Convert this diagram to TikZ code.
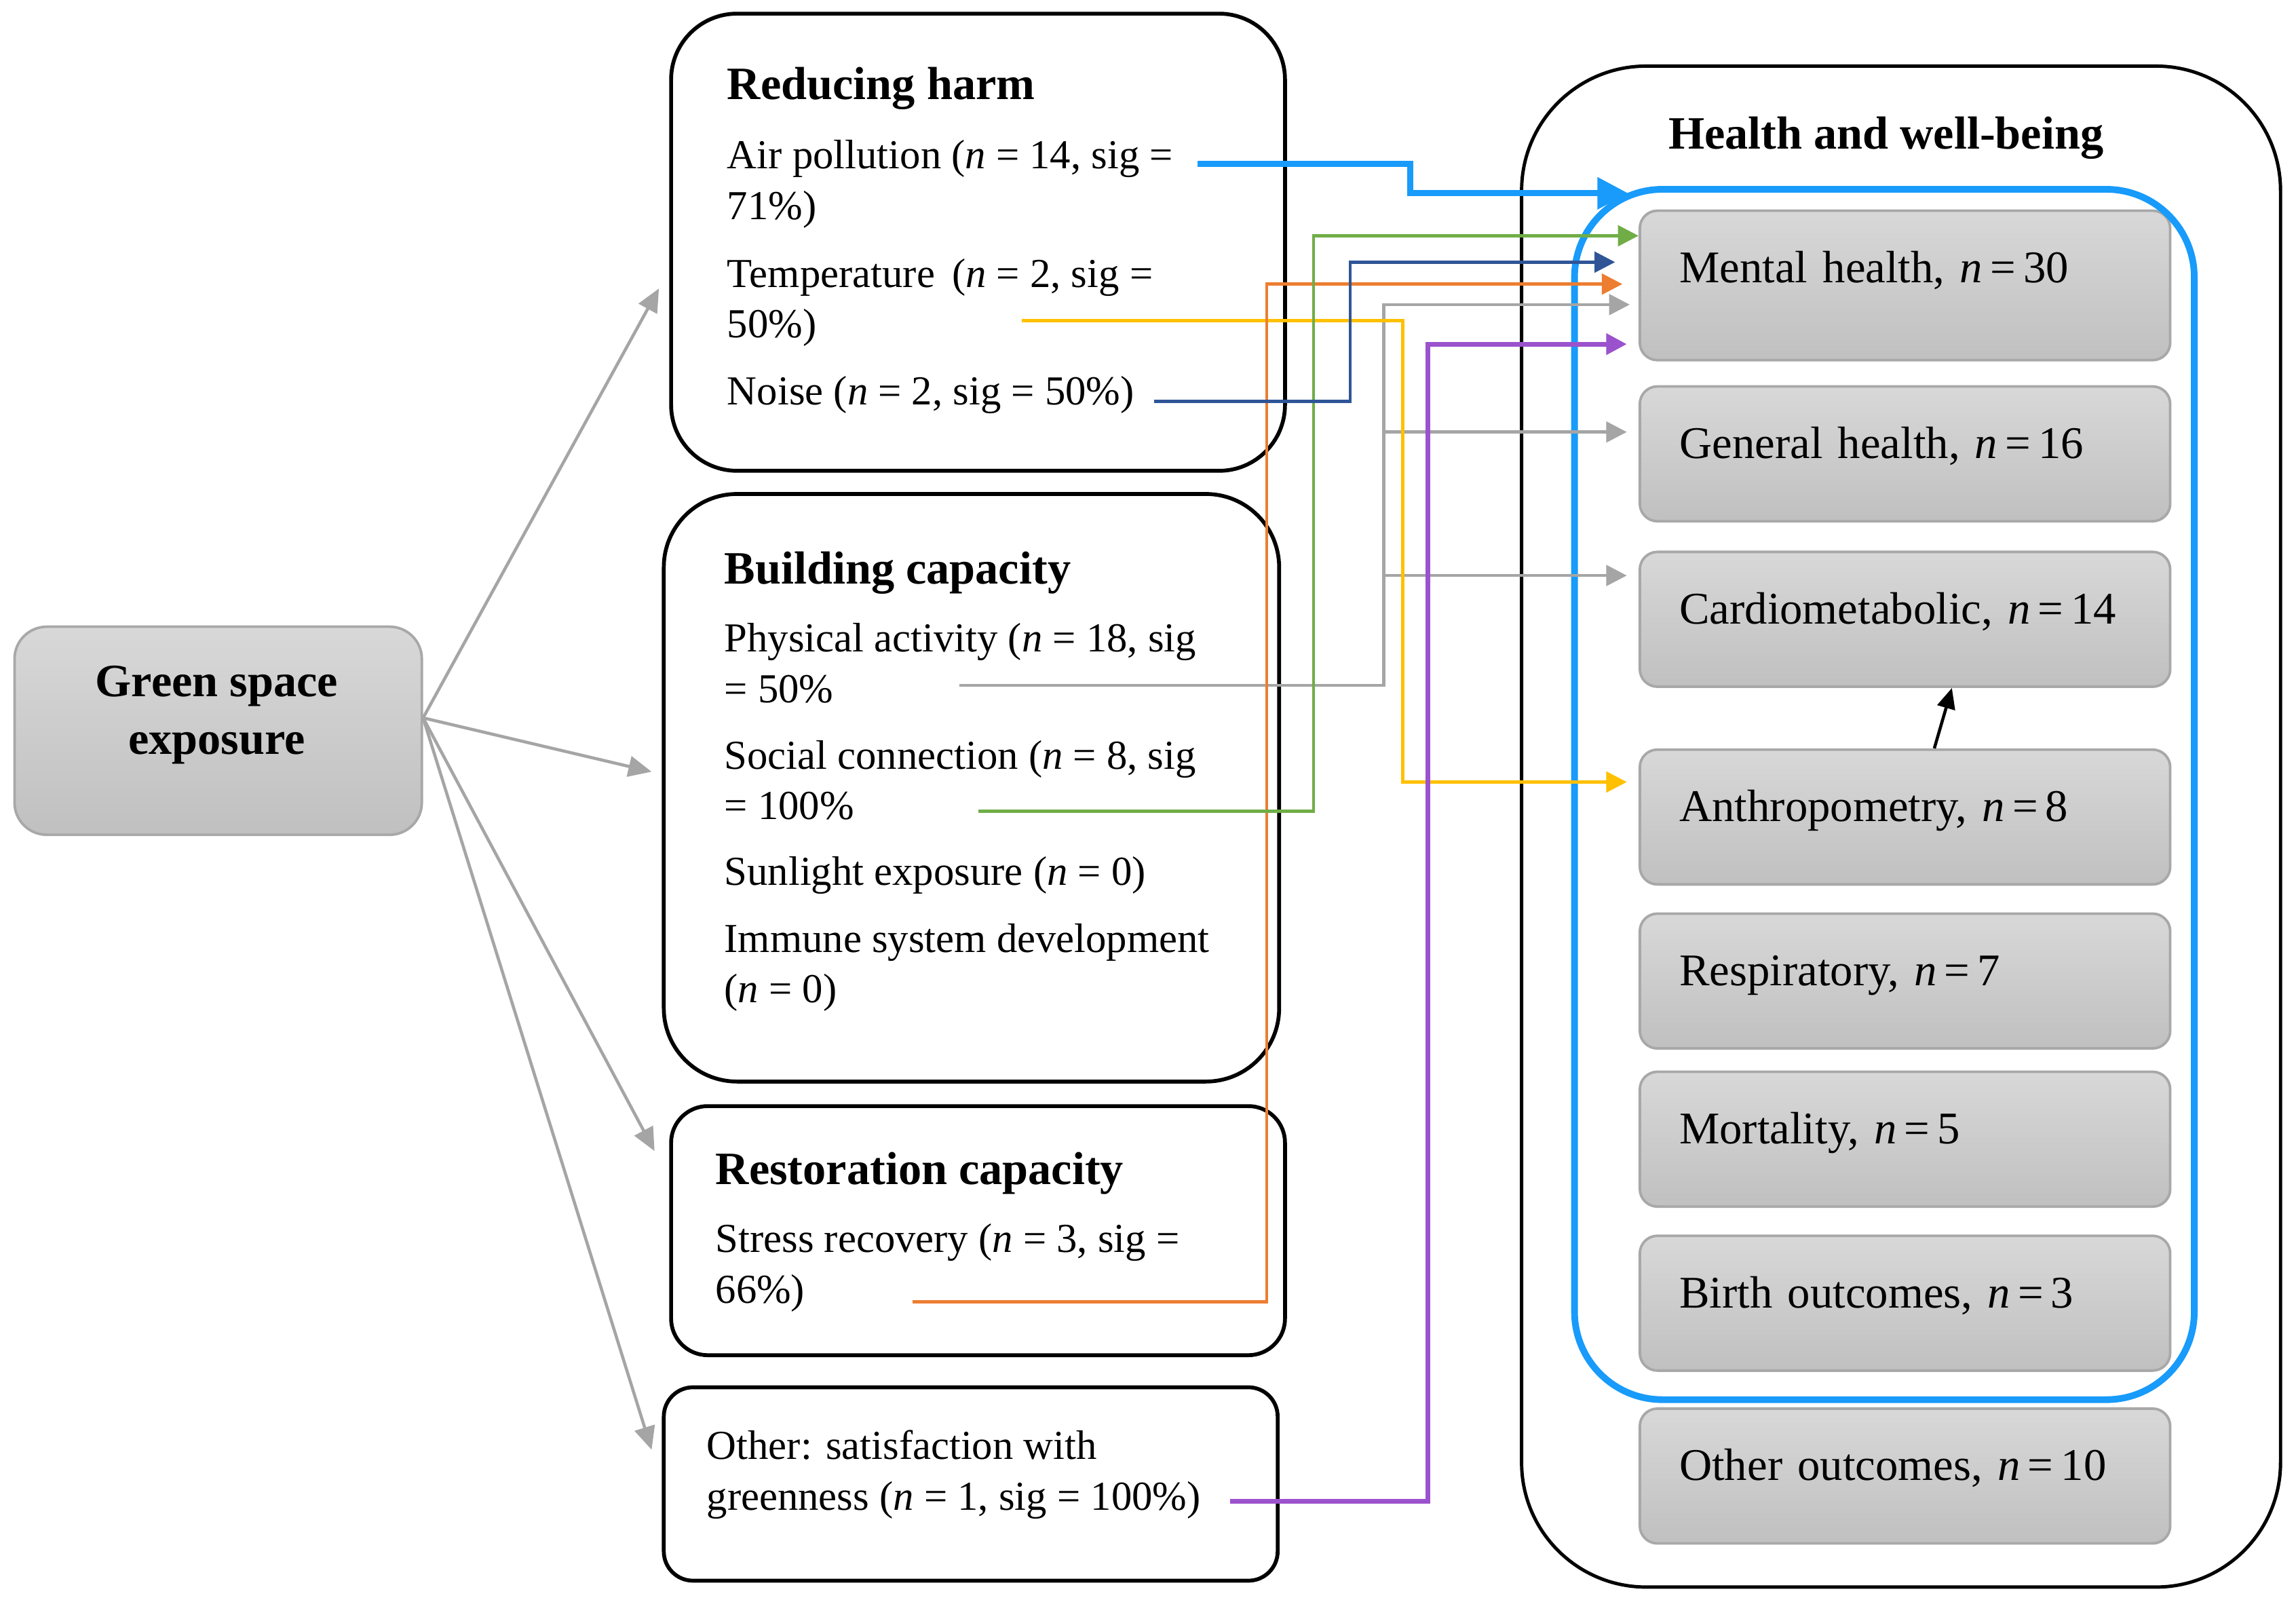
\documentclass[tikz,border=0pt]{standalone}
\usepackage{fontspec}
\setmainfont{Liberation Serif}
\usetikzlibrary{arrows.meta}
\definecolor{boxgrayT}{RGB}{216,216,216}
\definecolor{boxgrayB}{RGB}{192,192,192}
\definecolor{boxedge}{RGB}{168,168,168}
\definecolor{linkgray}{RGB}{165,165,165}
\definecolor{airblue}{RGB}{24,155,250}
\definecolor{noiseblue}{RGB}{47,85,151}
\definecolor{socgreen}{RGB}{112,173,71}
\definecolor{tempyellow}{RGB}{255,192,0}
\definecolor{stressorange}{RGB}{237,125,49}
\definecolor{otherpurple}{RGB}{155,82,205}

\begin{document}
\begin{tikzpicture}[x=0.01cm, y=-0.01cm,
  catbox/.style={draw, line width=0.75pt, anchor=north west, inner sep=0pt},
  shadebox/.style={draw=boxedge, line width=0.5pt, top color=boxgrayT, bottom color=boxgrayB},
  graybox/.style={shadebox, rounded corners=0.12cm, anchor=north west, text width=3.08cm,
    inner xsep=0.27cm, inner ysep=0pt, align=left, text height=0.49cm, text depth=0.43cm,
    font=\fontsize{8.8}{11}\selectfont},
  cattitle/.style={anchor=north west, inner sep=0pt, font=\fontsize{9}{11}\selectfont\bfseries},
  item/.style={anchor=north west, inner sep=0pt, align=left, font=\fontsize{8}{9.8}\selectfont},
  spoke/.style={draw=linkgray, line width=0.6pt, -{Triangle[length=4.5pt,width=4pt]}},
  link/.style={line width=0.6pt, -{Triangle[length=4pt,width=4pt]}}]
\useasboundingbox (0,0) rectangle (1568,1091);
% ---- mechanism boxes ----
\node[catbox, rounded corners=0.45cm, minimum width=4.19cm, minimum height=3.12cm] (harm) at (457,8) {};
\node[catbox, rounded corners=0.5cm, minimum width=4.2cm, minimum height=4.01cm] (build) at (452,336) {};
\node[catbox, rounded corners=0.25cm, minimum width=4.19cm, minimum height=1.7cm] (rest) at (457,754) {};
\node[catbox, rounded corners=0.2cm, minimum width=4.19cm, minimum height=1.32cm] (other) at (452,946) {};
\node[shadebox, rounded corners=0.22cm, minimum width=2.78cm, minimum height=1.42cm] (green) at (149,499) {};
\node[align=center, inner sep=0pt, font=\fontsize{9}{11.2}\selectfont\bfseries] (greenT) at (148,488) {Green space\\exposure};
% ---- texts ----
\node[cattitle] (harmT) at (496,45) {Reducing harm};
\node[item] (air) at (496,95) {Air pollution (\textit{n} = 14, sig =\\71\%)};
\node[item] (temp) at (496,176) {Temperature \,(\textit{n} = 2, sig =\\50\%)};
\node[item] (noise) at (496,256) {Noise (\textit{n} = 2, sig = 50\%)};
\node[cattitle] (buildT) at (494,376) {Building capacity};
\node[item] (act) at (494,425) {Physical activity (\textit{n} = 18, sig\\= 50\%};
\node[item] (soc) at (494,505) {Social connection (\textit{n} = 8, sig\\= 100\%};
\node[item] (sun) at (494,584) {Sunlight exposure (\textit{n} = 0)};
\node[item] (imm) at (494,630) {Immune system development\\(\textit{n} = 0)};
\node[cattitle] (restT) at (488,786) {Restoration capacity};
\node[item] (stress) at (488,835) {Stress recovery (\textit{n} = 3, sig =\\66\%)};
\node[item] (sat) at (482,976) {Other: satisfaction with\\greenness (\textit{n} = 1, sig = 100\%)};
% ---- outcomes ----
\node[catbox, line width=0.65pt, rounded corners=0.85cm, minimum width=5.18cm, minimum height=10.38cm] (health) at (1038,44) {};
\node[anchor=north, inner sep=0pt, font=\fontsize{9}{11}\selectfont\bfseries] (healthT) at (1288,79) {Health and well-being};
\node[graybox, text depth=0.53cm] (mental) at (1119,143) {Mental health, \textit{n}\,=\,30};
\node[graybox] (general) at (1119,263) {General health, \textit{n}\,=\,16};
\node[graybox] (cardio) at (1119,376) {Cardiometabolic, \textit{n}\,=\,14};
\node[graybox] (anthro) at (1119,511) {Anthropometry, \textit{n}\,=\,8};
\node[graybox] (resp) at (1119,623) {Respiratory, \textit{n}\,=\,7};
\node[graybox] (mort) at (1119,731) {Mortality, \textit{n}\,=\,5};
\node[graybox] (birth) at (1119,843) {Birth outcomes, \textit{n}\,=\,3};
\node[graybox] (otherout) at (1119,961) {Other outcomes, \textit{n}\,=\,10};
\node[draw=airblue, line width=1.3pt, rounded corners=0.6cm, anchor=north west, inner sep=0pt,
  minimum width=4.23cm, minimum height=8.26cm] (blue) at (1073,127) {};
% ---- spokes from exposure ----
\coordinate (harmIn) at (450,197);
\coordinate (buildIn) at (445,527);
\coordinate (restIn) at (447,786);
\coordinate (otherIn) at (445,990);
\foreach \t in {harmIn,buildIn,restIn,otherIn}
  \draw[spoke] ([yshift=2.5pt]green.east) -- (\t);
% ---- links to outcomes ----
\coordinate (airS) at (818,112);   \coordinate (airT) at (1112,132);
\coordinate (socS) at (668,554);   \coordinate (socT) at (1119,161);
\coordinate (noiseS) at (788,274); \coordinate (noiseT) at (1103,179);
\coordinate (stressS) at (623,889); \coordinate (stressT) at (1108,194);
\coordinate (actS) at (655,468);   \coordinate (actK) at (945,468);
\coordinate (actT) at (1113,208);  \coordinate (genT) at (1111,295);
\coordinate (cardT) at (1111,393);
\coordinate (tempS) at (698,219);  \coordinate (tempT) at (1111,534);
\coordinate (satS) at (840,1025);  \coordinate (satT) at (1111,235);
\draw[link, linkgray] (actS) -- (actK) |- (actT);
\draw[link, linkgray] (actK) |- (genT);
\draw[link, linkgray] (actK) |- (cardT);
\draw[link, tempyellow] (tempS) -- ++(260,0) |- (tempT);
\draw[link, stressorange] (stressS) -- ++(242,0) |- (stressT);
\draw[link, socgreen] (socS) -- ++(229,0) |- (socT);
\draw[link, noiseblue] (noiseS) -- ++(134,0) |- (noiseT);
\draw[link, otherpurple, line width=0.9pt] (satS) -- ++(135,0) |- (satT);
\draw[airblue, line width=1.2pt, -{Triangle[length=6pt,width=6pt]}] (airS) -- ++(145,0) |- (airT);
\draw[line width=0.6pt, -{Triangle[length=4pt,width=3.5pt]}] ([xshift=0.2cm]anthro.north) -- ([xshift=0.32cm]cardio.south);
\end{tikzpicture}
\end{document}
